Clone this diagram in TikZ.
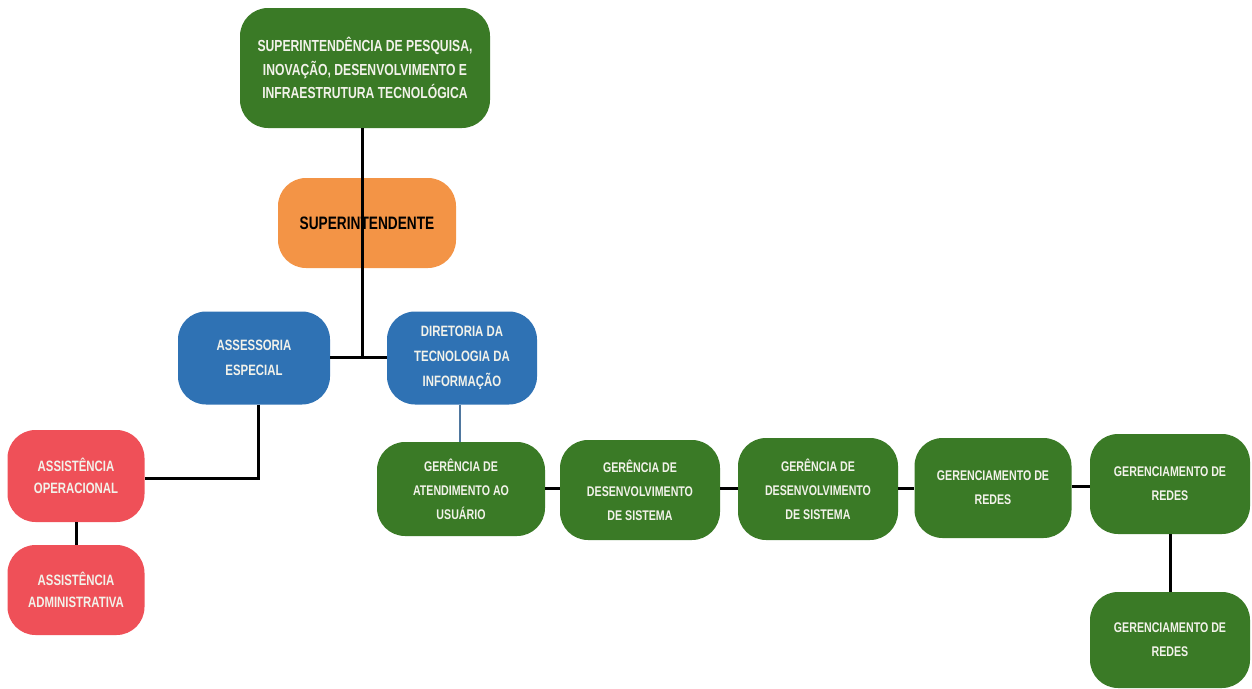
\documentclass[tikz,border=0pt]{standalone}
\usepackage{fontspec}
\newfontfamily\boxfont[FakeStretch=0.76]{Liberation Sans}
\definecolor{orgGreen}{HTML}{3A7A26}
\definecolor{orgBlue}{HTML}{2F72B4}
\definecolor{orgRed}{HTML}{EF5058}
\definecolor{orgOrange}{HTML}{F39446}
\definecolor{boxText}{HTML}{F2F2EA}
\tikzset{
  unit/.style={rounded corners=28pt, align=center, inner sep=2pt, text=boxText},
  greenbox/.style={unit, fill=orgGreen, font=\boxfont\bfseries\fontsize{14}{24}\selectfont},
  bluebox/.style={unit, fill=orgBlue, font=\boxfont\bfseries\fontsize{15}{25}\selectfont},
  redbox/.style={unit, fill=orgRed, font=\boxfont\bfseries\fontsize{15}{22}\selectfont},
  orangebox/.style={unit, fill=orgOrange, text=black, font=\boxfont\bfseries\fontsize{18}{22}\selectfont},
  link/.style={line width=3pt, black},
  thinlink/.style={line width=1.3pt, color=orgBlue!60!gray},
}
\begin{document}
\begin{tikzpicture}[x=1pt,y=-1pt]
\useasboundingbox (0,0) rectangle (1252,688);

% top level
\node[greenbox, minimum width=250pt, minimum height=120pt,
      font=\boxfont\bfseries\fontsize{16}{23.5}\selectfont] (pesq) at (365,68)
  {SUPERINTENDÊNCIA DE PESQUISA,\\INOVAÇÃO, DESENVOLVIMENTO E\\INFRAESTRUTURA TECNOLÓGICA};
\node[orangebox, minimum width=178pt, minimum height=90pt] (sup) at (367,223) {SUPERINTENDENTE};

% second level
\node[bluebox, minimum width=152pt, minimum height=93pt] (asse) at (254,358) {ASSESSORIA\\ESPECIAL};
\node[bluebox, minimum width=150pt, minimum height=93pt] (dir) at (462,358) {DIRETORIA DA\\TECNOLOGIA DA\\INFORMAÇÃO};

% assistance units
\node[redbox, minimum width=137pt, minimum height=92pt] (oper) at (76,476) {ASSISTÊNCIA\\OPERACIONAL};
\node[redbox, minimum width=137pt, minimum height=90pt] (adm) at (76,590) {ASSISTÊNCIA\\ADMINISTRATIVA};

% IT management row
\node[greenbox, minimum width=168pt, minimum height=94pt] (g1) at (461,489) {GERÊNCIA DE\\ATENDIMENTO AO\\USUÁRIO};
\node[greenbox, minimum width=160pt, minimum height=100pt] (g2) at (640,490) {GERÊNCIA DE\\DESENVOLVIMENTO\\DE SISTEMA};
\node[greenbox, minimum width=160pt, minimum height=102pt] (g3) at (818,489) {GERÊNCIA DE\\DESENVOLVIMENTO\\DE SISTEMA};
\node[greenbox, minimum width=157pt, minimum height=100pt] (g4) at (993,488) {GERENCIAMENTO DE\\REDES};
\node[greenbox, minimum width=160pt, minimum height=100pt] (g5) at (1170,484) {GERENCIAMENTO DE\\REDES};
\node[greenbox, minimum width=160pt, minimum height=96pt] (g6) at (1170,640) {GERENCIAMENTO DE\\REDES};

% connectors
\coordinate (hub) at (362,357);
\coordinate (corner) at (258,478);
\draw[link] (pesq.south -| 362,0) -- (sup.south -| 362,0);
\draw[link] (sup.south -| hub) -- (hub);
\draw[link] (asse.east |- hub) -- (dir.west |- hub);
\draw[link] (asse.south -| corner) -- (corner) -- (oper.east |- corner);
\draw[link] (oper.south) -- (adm.north);
\draw[thinlink] (dir.south -| 460,0) -- (g1.north -| 460,0);
\draw[link] (g1.east |- 0,488) -- (g2.west |- 0,488);
\draw[link] (g2.east |- 0,488) -- (g3.west |- 0,488);
\draw[link] (g3.east |- 0,488) -- (g4.west |- 0,488);
\draw[link] (g4.east |- 0,486) -- (g5.west |- 0,486);
\draw[link] (g5.south) -- (g6.north);
\end{tikzpicture}
\end{document}
